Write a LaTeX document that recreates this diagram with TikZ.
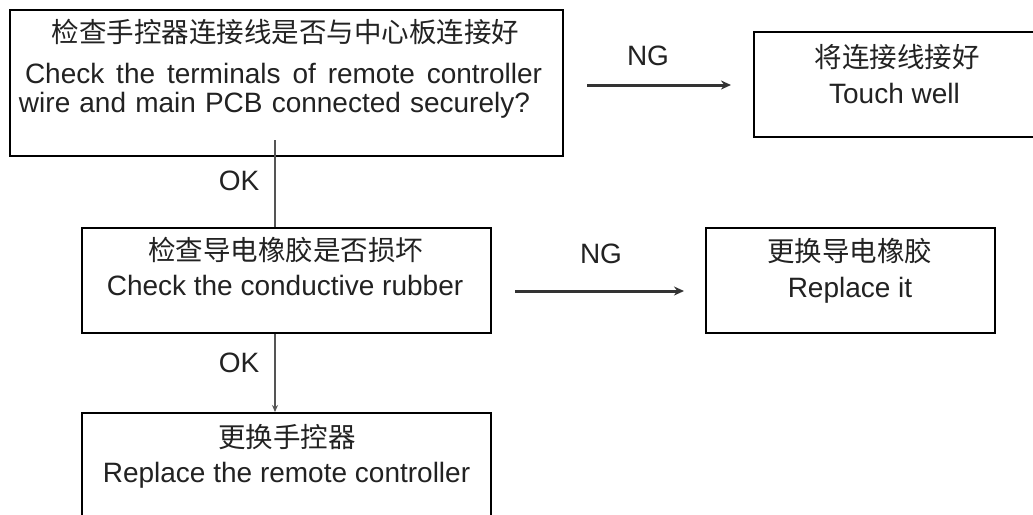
\documentclass[tikz,border=0pt]{standalone}
\usepackage{fontspec}
\setmainfont{Liberation Sans}
\newfontfamily\cjk{Noto Sans CJK SC}
\usetikzlibrary{arrows.meta}
\definecolor{txtc}{HTML}{222222}
\definecolor{linec}{HTML}{333333}
\definecolor{vlinec}{HTML}{555555}
\begin{document}
\begin{tikzpicture}[x=1pt,y=-1pt,
  box/.style={draw=black, line width=1.8pt, inner sep=0pt, anchor=north west},
  txt/.style={anchor=base, inner sep=0pt, text=txtc, font=\fontsize{28}{34}\selectfont},
  ctxt/.style={anchor=base, inner sep=0pt, text=txtc, font=\fontsize{27.5}{34}\selectfont\cjk},
  harr/.style={draw=linec, line width=3pt, -{Stealth[length=10pt,width=9pt]}},
  vline/.style={draw=vlinec, line width=1.8pt},
  varr/.style={draw=vlinec, line width=1.8pt, -{Stealth[length=7pt,width=6pt]}}]
\useasboundingbox (0,0) rectangle (1033,514);
\clip (0,0) rectangle (1033,514);
\fill[white] (0,0) rectangle (1033,514);

% boxes
\node[box, minimum width=553pt, minimum height=146pt] (b1) at (9,9) {};
\node[box, minimum width=290pt, minimum height=105pt] (b2) at (753,31) {};
\node[box, minimum width=409pt, minimum height=105pt] (b3) at (81,227) {};
\node[box, minimum width=289pt, minimum height=105pt] (b4) at (705,227) {};
\node[box, minimum width=409pt, minimum height=130pt] (b5) at (81,412) {};

% texts
\node[ctxt] (t1a) at (285.5,42) {检查手控器连接线是否与中心板连接好};
\node[txt] (t1b) at (283.5,83) {\makebox[517pt][s]{Check the terminals of remote controller}};
\node[txt] (t1c) at (274.5,112) {\makebox[511pt][s]{wire and main PCB connected securely?}};

\node[ctxt] (t2a) at (897,67) {将连接线接好};
\node[txt] (t2b) at (894.5,103) {Touch well};

\node[ctxt] (t3a) at (285.5,260) {检查导电橡胶是否损坏};
\node[txt] (t3b) at (285,295) {Check the conductive rubber};

\node[ctxt] (t4a) at (849.5,261) {更换导电橡胶};
\node[txt] (t4b) at (850,297) {Replace it};

\node[ctxt] (t5a) at (287,447) {更换手控器};
\node[txt] (t5b) at (286.5,482) {Replace the remote controller};

% labels
\node[txt] (ng1) at (648,65) {NG};
\node[txt] (ng2) at (601,263) {NG};
\node[txt] (ok1) at (239,190) {OK};
\node[txt] (ok2) at (239,372) {OK};

% connectors
\coordinate (n1s) at (587,85);
\coordinate (n1e) at (731,85);
\coordinate (n2s) at (515,291);
\coordinate (n2e) at (684,291);
\coordinate (v1s) at (275,140);
\coordinate (vx) at (275,0);
\draw[harr] (n1s) -- (n1e);
\draw[harr] (n2s) -- (n2e);
\draw[vline] (v1s) -- (v1s |- b3.north);
\draw[varr] (vx |- b3.south) -- (vx |- b5.north);
\end{tikzpicture}
\end{document}
